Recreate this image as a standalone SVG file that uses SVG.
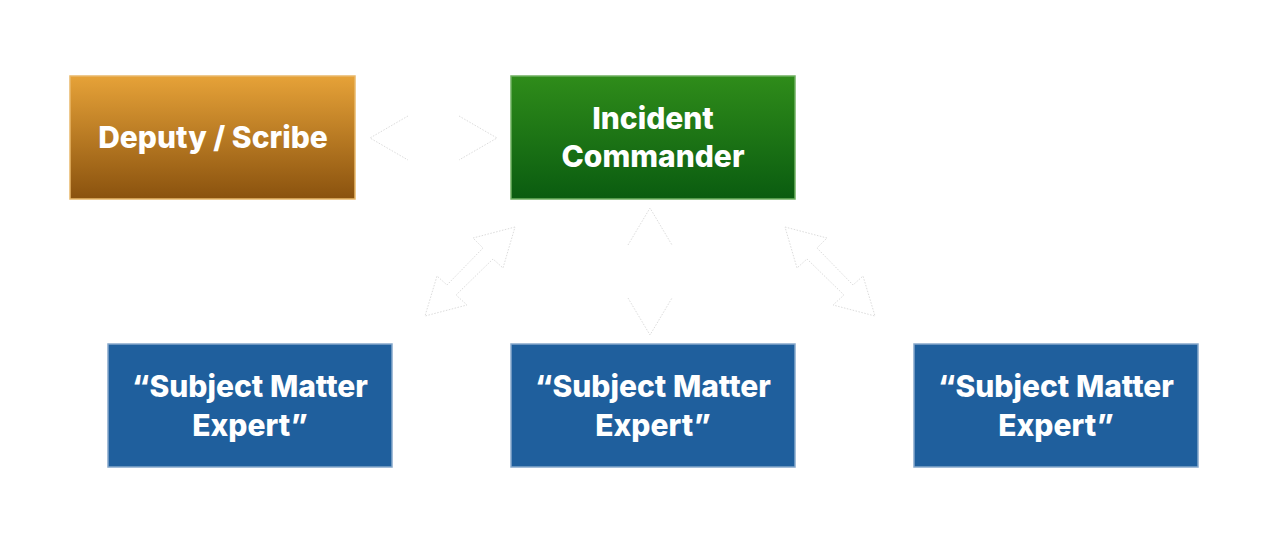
<svg xmlns="http://www.w3.org/2000/svg" width="1277" height="548" viewBox="0 0 1277 548">
<defs>
<linearGradient id="gOrange" x1="0" y1="0" x2="0" y2="1"><stop offset="0" stop-color="#E6A238"/><stop offset="1" stop-color="#8A520E"/></linearGradient>
<linearGradient id="gGreen" x1="0" y1="0" x2="0" y2="1"><stop offset="0" stop-color="#2F8C1A"/><stop offset="1" stop-color="#0A5C10"/></linearGradient>
<style>
.box{stroke-width:1.5}
.lbl{font-family:Inter,"Noto Sans","Liberation Sans",sans-serif;font-weight:800;font-size:30px;fill:#fff;text-anchor:middle}
.arr{fill:#fff;stroke:#dcdcdc;stroke-width:1;stroke-dasharray:1.5 1.5}
.edge{fill:none;stroke:#dcdcdc;stroke-width:1;stroke-dasharray:1.5 1.5}
</style>
</defs>
<rect width="1277" height="548" fill="#fff"/>
<g id="connectors">
<polyline class="edge" points="408,116 370,138 408,160"/>
<polyline class="edge" points="459,116 497,138 459,160"/>
<polyline class="edge" points="628,245 650,208 672,245"/>
<polyline class="edge" points="628,298 650,335 672,298"/>
<polygon class="arr" points="515,227 473,238 483,248 447,285 437,276 425,316 467,305 456,295 493,259 503,268"/>
<polygon class="arr" points="785,227 827,238 817,248 853,285 863,276 875,316 833,305 844,295 807,259 797,268"/>
</g>
<g id="deputy">
<rect class="box" x="70" y="76" width="285" height="123" fill="url(#gOrange)" stroke="#E9B86A"/>
<text class="lbl" x="213" y="148">Deputy / Scribe</text>
</g>
<g id="commander">
<rect class="box" x="511" y="76" width="284" height="123" fill="url(#gGreen)" stroke="#6FB060"/>
<text class="lbl" x="653" y="129">Incident</text>
<text class="lbl" x="653" y="167">Commander</text>
</g>
<g id="sme1">
<rect class="box" x="108" y="344" width="284" height="123" fill="#1F5F9D" stroke="#86A8CB"/>
<text class="lbl" x="250" y="397">“Subject Matter</text>
<text class="lbl" x="250" y="436">Expert”</text>
</g>
<g id="sme2">
<rect class="box" x="511" y="344" width="284" height="123" fill="#1F5F9D" stroke="#86A8CB"/>
<text class="lbl" x="653" y="397">“Subject Matter</text>
<text class="lbl" x="653" y="436">Expert”</text>
</g>
<g id="sme3">
<rect class="box" x="914" y="344" width="284" height="123" fill="#1F5F9D" stroke="#86A8CB"/>
<text class="lbl" x="1056" y="397">“Subject Matter</text>
<text class="lbl" x="1056" y="436">Expert”</text>
</g>
</svg>
